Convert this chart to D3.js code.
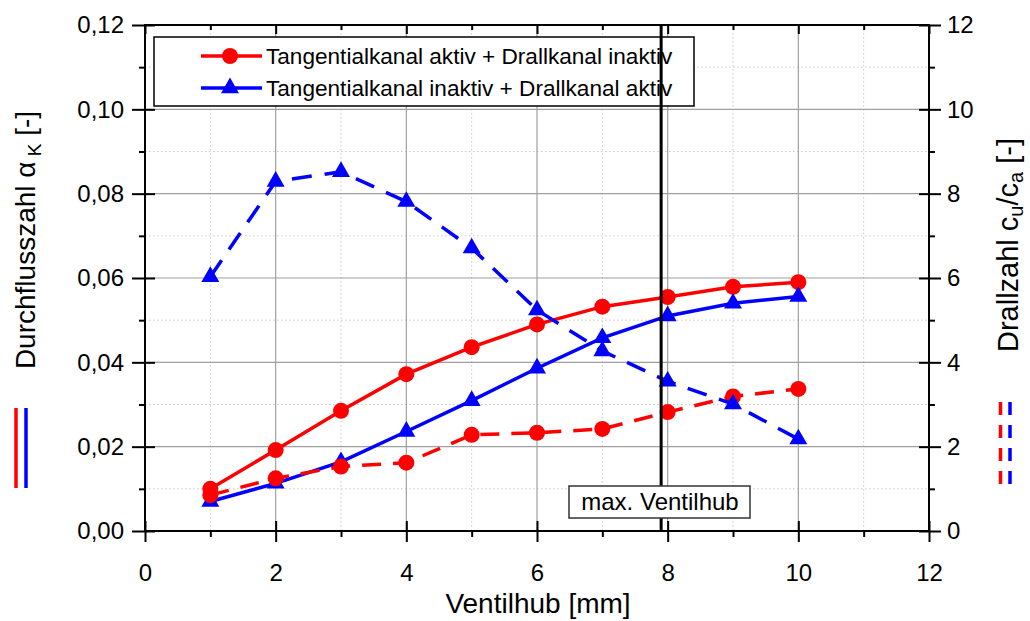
<!DOCTYPE html>
<html>
<head>
<meta charset="utf-8">
<script src="https://cdnjs.cloudflare.com/ajax/libs/d3/7.8.5/d3.min.js"></script>
<style>
  body { margin: 0; background: #fff; }
  svg { display: block; font-family: "Liberation Sans", Arial, sans-serif; }
</style>
</head>
<body>
<svg id="chart" width="1030" height="621"></svg>
<script>
// data
var hub = [1, 2, 3, 4, 5, 6, 7, 8, 9, 10];
var alphaTangential = [0.0100, 0.0192, 0.0285, 0.0372, 0.0436, 0.0490, 0.0532, 0.0555, 0.0579, 0.0590];
var alphaDrall = [0.0070, 0.0113, 0.0164, 0.0236, 0.0309, 0.0386, 0.0458, 0.0510, 0.0540, 0.0556];
var swirlTangential = [0.85, 1.25, 1.53, 1.62, 2.28, 2.33, 2.42, 2.82, 3.19, 3.37];
var swirlDrall = [6.03, 8.29, 8.52, 7.81, 6.71, 5.24, 4.27, 3.55, 3.01, 2.18];
var legendLabels = ['Tangentialkanal aktiv + Drallkanal inaktiv', 'Tangentialkanal inaktiv + Drallkanal aktiv'];
var xTicks = [0, 2, 4, 6, 8, 10, 12];
var yLeftTicks = [0, 0.02, 0.04, 0.06, 0.08, 0.10, 0.12];
var yRightTicks = [0, 2, 4, 6, 8, 10, 12];
var maxHub = 7.9;

var RED = '#ff0000', BLUE = '#0000ff';
var L = 145, R = 929, T = 25, B = 531;

var svg = d3.select('#chart');
var x = d3.scaleLinear().domain([0, 12]).range([L, R]);
var yl = d3.scaleLinear().domain([0, 0.12]).range([B, T]);
var yr = d3.scaleLinear().domain([0, 12]).range([B, T]);
var fmt = function (d) { return d3.format('.2f')(d).replace('.', ','); };

// grid
var grid = svg.append('g');
d3.range(1, 12, 2).forEach(function (v) {
  grid.append('line').attr('x1', x(v)).attr('x2', x(v)).attr('y1', T).attr('y2', B)
    .attr('stroke', '#c8c8c8').attr('stroke-dasharray', '1.5,2.5');
});
d3.range(0.01, 0.12, 0.02).forEach(function (v) {
  grid.append('line').attr('x1', L).attr('x2', R).attr('y1', yl(v)).attr('y2', yl(v))
    .attr('stroke', '#c8c8c8').attr('stroke-dasharray', '1.5,2.5');
});
xTicks.slice(1, -1).forEach(function (v) {
  grid.append('line').attr('x1', x(v)).attr('x2', x(v)).attr('y1', T).attr('y2', B)
    .attr('stroke', '#a0a0a0').attr('stroke-width', 1.2);
});
yLeftTicks.slice(1, -1).forEach(function (v) {
  grid.append('line').attr('x1', L).attr('x2', R).attr('y1', yl(v)).attr('y2', yl(v))
    .attr('stroke', '#a0a0a0').attr('stroke-width', 1.2);
});

// axes (ticks drawn through d3 axes, in & out)
function styleAxis(g) {
  g.select('.domain').remove();
  g.selectAll('line').attr('stroke', '#000').attr('stroke-width', 2);
  g.selectAll('text').attr('font-size', 24).attr('fill', '#000');
}
var bottomAxis = svg.append('g').attr('transform', 'translate(0,' + B + ')')
  .call(d3.axisBottom(x).tickValues(xTicks).tickSize(11).tickPadding(22).tickFormat(d3.format('d')))
  .call(styleAxis);
bottomAxis.selectAll('.tick line').attr('y1', -10);
svg.append('g').attr('transform', 'translate(0,' + B + ')')
  .call(d3.axisBottom(x).tickValues(d3.range(1, 12, 2)).tickSize(6).tickFormat(''))
  .call(styleAxis);

var leftAxis = svg.append('g').attr('transform', 'translate(' + L + ',0)')
  .call(d3.axisLeft(yl).tickValues(yLeftTicks).tickSize(13).tickPadding(8).tickFormat(fmt))
  .call(styleAxis);
leftAxis.selectAll('.tick line').attr('x1', 10);
svg.append('g').attr('transform', 'translate(' + L + ',0)')
  .call(d3.axisLeft(yl).tickValues(d3.range(0.01, 0.12, 0.02)).tickSize(6).tickFormat(''))
  .call(styleAxis);

var rightAxis = svg.append('g').attr('transform', 'translate(' + R + ',0)')
  .call(d3.axisRight(yr).tickValues(yRightTicks).tickSize(12).tickPadding(6).tickFormat(d3.format('d')))
  .call(styleAxis);
rightAxis.selectAll('.tick line').attr('x1', -10);
svg.append('g').attr('transform', 'translate(' + R + ',0)')
  .call(d3.axisRight(yr).tickValues(d3.range(1, 12, 2)).tickSize(6).tickFormat(''))
  .call(styleAxis);

svg.append('g').attr('transform', 'translate(0,' + T + ')')
  .call(d3.axisBottom(x).tickValues(xTicks).tickSize(9).tickFormat(''))
  .call(styleAxis);
svg.append('g').attr('transform', 'translate(0,' + T + ')')
  .call(d3.axisBottom(x).tickValues(d3.range(1, 12, 2)).tickSize(5).tickFormat(''))
  .call(styleAxis);

// frame
svg.append('rect').attr('x', L).attr('y', T).attr('width', R - L).attr('height', B - T)
  .attr('fill', 'none').attr('stroke', '#000').attr('stroke-width', 2);

// series
var series = [
  { y: alphaTangential, scale: yl, color: RED, marker: 'circle', dash: null },
  { y: alphaDrall, scale: yl, color: BLUE, marker: 'triangle', dash: null },
  { y: swirlTangential, scale: yr, color: RED, marker: 'circle', dash: '19,12' },
  { y: swirlDrall, scale: yr, color: BLUE, marker: 'triangle', dash: '20,13' }
];
var tri = d3.symbol().type(d3.symbolTriangle).size(140);

function drawMarker(g, kind, cx, cy, color) {
  if (kind === 'circle') {
    g.append('circle').attr('cx', cx).attr('cy', cy).attr('r', 8).attr('fill', color);
  } else {
    g.append('path').attr('d', tri).attr('transform', 'translate(' + cx + ',' + cy + ')').attr('fill', color);
  }
}

series.forEach(function (s) {
  var g = svg.append('g');
  var line = d3.line().x(function (d, i) { return x(hub[i]); }).y(function (d) { return s.scale(d); });
  g.append('path').datum(s.y).attr('d', line).attr('fill', 'none')
    .attr('stroke', s.color).attr('stroke-width', 3.5)
    .attr('stroke-dasharray', s.dash);
  s.y.forEach(function (v, i) { drawMarker(g, s.marker, x(hub[i]), s.scale(v), s.color); });
});

// legend
var lg = svg.append('g');
lg.append('rect').attr('x', 154).attr('y', 37).attr('width', 540).attr('height', 69)
  .attr('fill', '#fff').attr('stroke', '#000').attr('stroke-width', 1.5);
legendLabels.forEach(function (t, i) {
  var cy = 56 + i * 32;
  lg.append('line').attr('x1', 201).attr('x2', 262).attr('y1', cy).attr('y2', cy)
    .attr('stroke', series[i].color).attr('stroke-width', 3.5);
  drawMarker(lg, series[i].marker, 230, cy, series[i].color);
  lg.append('text').attr('x', 266).attr('y', cy).attr('dy', '0.35em')
    .attr('font-size', 22.6).text(t);
});

// max. Ventilhub marker line
svg.append('line').attr('x1', x(maxHub)).attr('x2', x(maxHub)).attr('y1', T).attr('y2', B)
  .attr('stroke', '#000').attr('stroke-width', 3);
svg.append('rect').attr('x', 569).attr('y', 486).attr('width', 181).attr('height', 32)
  .attr('fill', '#fff').attr('stroke', '#333').attr('stroke-width', 1.5);
svg.append('text').attr('x', 660).attr('y', 502).attr('dy', '0.35em')
  .attr('text-anchor', 'middle').attr('font-size', 24).text('max. Ventilhub');

// axis titles
svg.append('text').attr('x', 538).attr('y', 613).attr('text-anchor', 'middle')
  .attr('font-size', 28).text('Ventilhub [mm]');

var lt = svg.append('text').attr('transform', 'translate(35,240) rotate(-90)')
  .attr('text-anchor', 'middle').attr('font-size', 28);
lt.append('tspan').text('Durchflusszahl \u03b1');
lt.append('tspan').attr('font-size', 19).attr('dy', 6).text(' K');
lt.append('tspan').attr('dy', -6).text(' [-]');

var rt = svg.append('text').attr('transform', 'translate(1018,245) rotate(-90)')
  .attr('text-anchor', 'middle').attr('font-size', 29);
rt.append('tspan').text('Drallzahl c');
rt.append('tspan').attr('font-size', 20).attr('dy', 5).text('u');
rt.append('tspan').attr('dy', -5).text('/c');
rt.append('tspan').attr('font-size', 20).attr('dy', 5).text('a');
rt.append('tspan').attr('dy', -5).text(' [-]');

// series keys below titles
[[16, RED], [26, BLUE]].forEach(function (k) {
  svg.append('line').attr('x1', k[0]).attr('x2', k[0]).attr('y1', 408).attr('y2', 488)
    .attr('stroke', k[1]).attr('stroke-width', 3.5);
});
[[1000.5, RED], [1010, BLUE]].forEach(function (k) {
  svg.append('line').attr('x1', k[0]).attr('x2', k[0]).attr('y1', 402).attr('y2', 494)
    .attr('stroke', k[1]).attr('stroke-width', 3.5).attr('stroke-dasharray', '13,10');
});
</script>
</body>
</html>
